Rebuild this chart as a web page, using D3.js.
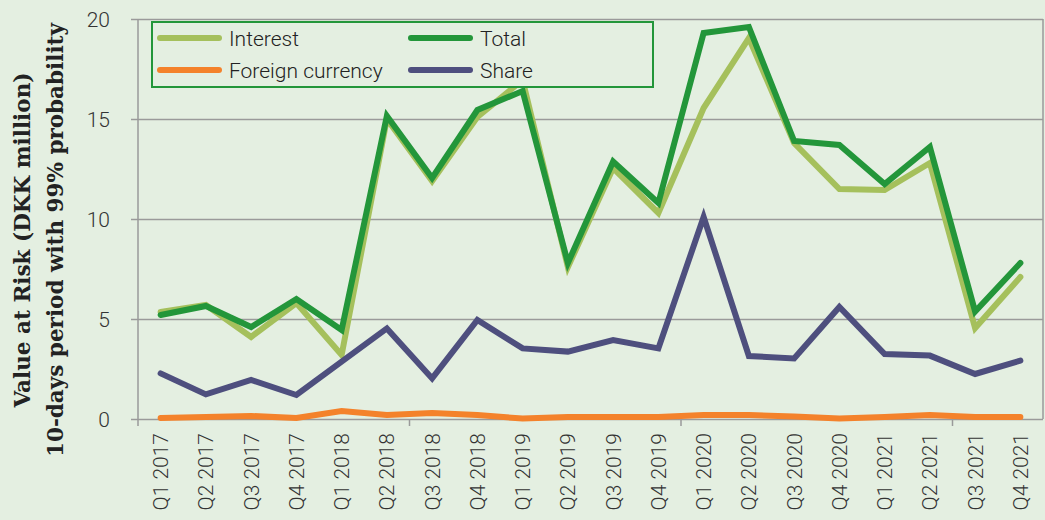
<!DOCTYPE html>
<html>
<head>
<meta charset="utf-8">
<script src="https://cdn.jsdelivr.net/npm/d3@7"></script>
<style>
  body { margin: 0; background: #e4efe1; }
  svg { display: block; }
</style>
</head>
<body>
<svg id="chart" width="1045" height="520"></svg>
<script>
const quarters = ["Q1 2017","Q2 2017","Q3 2017","Q4 2017","Q1 2018","Q2 2018","Q3 2018","Q4 2018",
  "Q1 2019","Q2 2019","Q3 2019","Q4 2019","Q1 2020","Q2 2020","Q3 2020","Q4 2020",
  "Q1 2021","Q2 2021","Q3 2021","Q4 2021"];

const interest = [5.35, 5.7, 4.1, 5.8, 3.2, 15.0, 11.9, 15.1, 16.95, 7.6, 12.55, 10.3,
  15.55, 19.05, 13.8, 11.5, 11.45, 12.8, 4.55, 7.1];
const total = [5.2, 5.65, 4.6, 6.0, 4.45, 15.15, 12.05, 15.45, 16.4, 7.8, 12.87, 10.8,
  19.3, 19.6, 13.9, 13.7, 11.75, 13.6, 5.37, 7.8];
const foreign = [0.05, 0.1, 0.15, 0.05, 0.4, 0.2, 0.3, 0.2, 0.02, 0.1, 0.1, 0.1,
  0.2, 0.2, 0.12, 0.03, 0.1, 0.2, 0.1, 0.1];
const share = [2.28, 1.23, 1.95, 1.2, 2.87, 4.53, 2.03, 4.95, 3.53, 3.37, 3.95, 3.53,
  10.1, 3.15, 3.03, 5.6, 3.25, 3.17, 2.25, 2.92];

const yTicks = [0, 5, 10, 15, 20];

const series = [
  { name: "Interest", values: interest, color: "#a5c05c" },
  { name: "Total", values: total, color: "#23963a" },
  { name: "Foreign currency", values: foreign, color: "#f4822b" },
  { name: "Share", values: share, color: "#4e4f7e" }
];

const svg = d3.select("#chart");
const mLeft = 138, mRight = 1043, mTop = 19, mBottom = 419;

const x = d3.scaleBand()
  .domain(quarters)
  .range([mLeft, mRight]);

const y = d3.scaleLinear()
  .domain([0, 20])
  .range([mBottom, mTop]);

const labelFont = "Roboto, sans-serif";

// gridlines + left axis
const yAxis = svg.append("g")
  .attr("transform", "translate(" + mLeft + ",0)")
  .call(d3.axisLeft(y).tickValues(yTicks).tickSize(-(mRight - mLeft)).tickPadding(28).tickSizeOuter(0));
yAxis.select(".domain").remove();
yAxis.selectAll(".tick line").attr("stroke", "#9a9a9a").attr("stroke-width", 1.5).attr("x1", -7);
yAxis.selectAll(".tick text")
  .attr("font-family", labelFont).attr("font-weight", 300)
  .attr("font-size", 21).attr("fill", "#333")
  .attr("dy", "0.36em");

svg.append("line")
  .attr("x1", mLeft).attr("x2", mLeft).attr("y1", mTop).attr("y2", mBottom)
  .attr("stroke", "#9a9a9a").attr("stroke-width", 1.5);
svg.append("line")
  .attr("x1", mRight).attr("x2", mRight).attr("y1", mTop).attr("y2", mBottom)
  .attr("stroke", "#9a9a9a").attr("stroke-width", 1.5);

// bottom tick marks every 6 quarters
const xAxis = svg.append("g")
  .attr("transform", "translate(0," + mBottom + ")")
  .call(d3.axisBottom(x).tickSize(0).tickPadding(0));
xAxis.select(".domain").remove();
xAxis.selectAll(".tick text")
  .attr("font-family", labelFont).attr("font-weight", 300)
  .attr("font-size", 21).attr("fill", "#333")
  .attr("text-anchor", "end")
  .attr("transform", "translate(0,14) rotate(-90)")
  .attr("dy", "0.36em").attr("y", 0);

svg.append("g").selectAll("line")
  .data(quarters.filter(function(d, i) { return i % 6 == 0; }))
  .enter().append("line")
  .attr("x1", function(d) { return x(d); })
  .attr("x2", function(d) { return x(d); })
  .attr("y1", mBottom).attr("y2", mBottom + 7)
  .attr("stroke", "#9a9a9a").attr("stroke-width", 1.5);

// lines
const line = d3.line()
  .x(function(d, i) { return x(quarters[i]) + x.bandwidth() / 2; })
  .y(function(d) { return y(d); });

svg.append("g").selectAll("path")
  .data(series)
  .enter().append("path")
  .attr("d", function(d) { return line(d.values); })
  .attr("fill", "none")
  .attr("stroke", function(d) { return d.color; })
  .attr("stroke-width", 6)
  .attr("stroke-linecap", "round")
  .attr("stroke-linejoin", "miter");

// legend
const legend = svg.append("g");
legend.append("rect")
  .attr("x", 152).attr("y", 22).attr("width", 501).attr("height", 65)
  .attr("fill", "#e4efe1").attr("stroke", "#23963a").attr("stroke-width", 2);

const legendPos = [[160, 38], [411, 38], [160, 70], [411, 70]];
const items = legend.selectAll(".item")
  .data(series)
  .enter().append("g")
  .attr("transform", function(d, i) { return "translate(" + legendPos[i][0] + "," + legendPos[i][1] + ")"; });
items.append("line")
  .attr("x1", 0).attr("x2", 59)
  .attr("stroke", function(d) { return d.color; })
  .attr("stroke-width", 6).attr("stroke-linecap", "round");
items.append("text")
  .attr("x", 69).attr("dy", "0.36em")
  .attr("font-family", labelFont).attr("font-weight", 300)
  .attr("font-size", 21).attr("fill", "#222")
  .text(function(d) { return d.name; });

// y axis title
const title = svg.append("text")
  .attr("transform", "translate(0,240) rotate(-90)")
  .attr("text-anchor", "middle")
  .attr("font-family", "'DejaVu Serif', serif")
  .attr("font-stretch", "condensed")
  .attr("font-weight", "bold")
  .attr("font-size", 23)
  .attr("fill", "#222");
title.append("tspan").attr("x", 0).attr("y", 30)
  .attr("textLength", 335).attr("lengthAdjust", "spacingAndGlyphs")
  .text("Value at Risk (DKK million)");
title.append("tspan").attr("x", 0).attr("y", 63)
  .attr("textLength", 434).attr("lengthAdjust", "spacingAndGlyphs")
  .text("10-days period with 99% probability");
</script>
</body>
</html>
